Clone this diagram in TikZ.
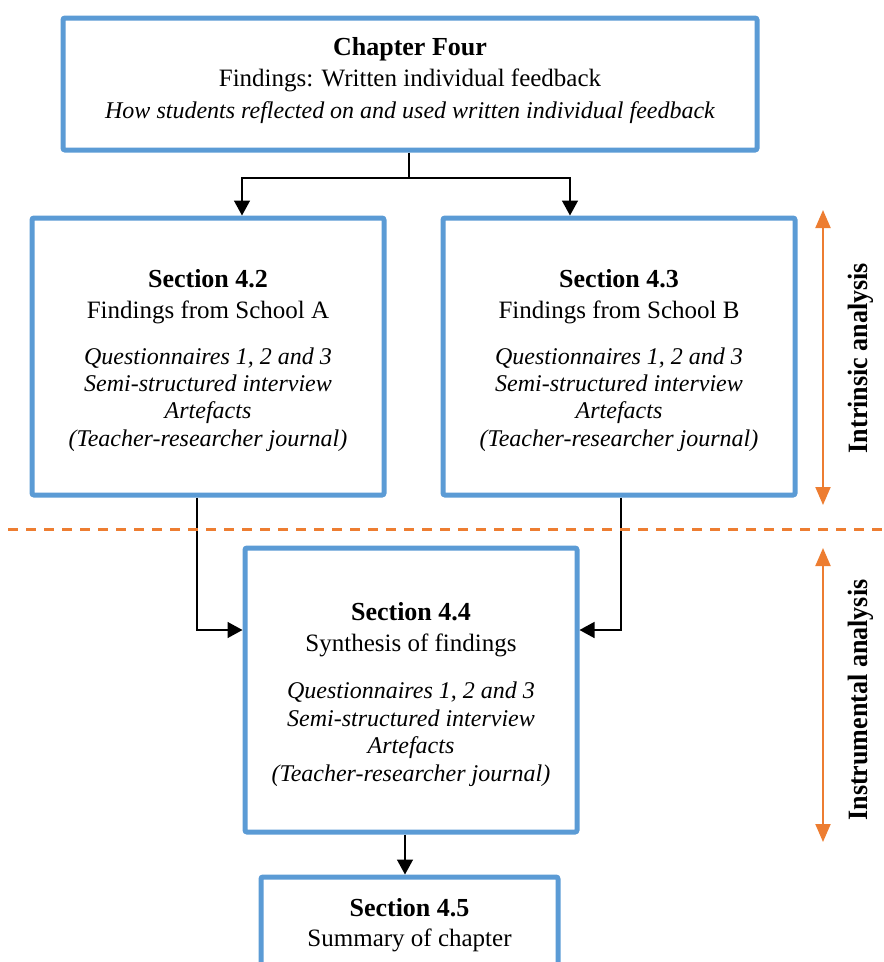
\documentclass[tikz,border=0pt]{standalone}
\usepackage{fontspec}
\setmainfont{Liberation Serif}
\usetikzlibrary{arrows.meta}
\definecolor{boxblue}{HTML}{5B9BD5}
\definecolor{dorange}{HTML}{ED7D31}
\begin{document}
\begin{tikzpicture}[x=1pt,y=-1pt,
  box/.style={draw=boxblue, line width=5pt, rounded corners=2pt, fill=white, inner sep=0pt},
  conn/.style={draw=black, line width=1.5pt, -{Triangle[length=15pt,width=16pt]}},
  hd/.style={anchor=base, font=\fontsize{26}{30}\selectfont\bfseries, inner sep=0pt},
  rg/.style={anchor=base, font=\fontsize{25}{30}\selectfont, inner sep=0pt},
  itl/.style={anchor=base, font=\fontsize{24}{28}\selectfont\itshape, inner sep=0pt},
  oarr/.style={draw=dorange, line width=2pt, {Triangle[length=18pt,width=15pt]}-{Triangle[length=18pt,width=15pt]}},
  sidelabel/.style={font=\fontsize{28}{32}\selectfont\bfseries, rotate=90, inner sep=0pt},
  dline/.style={draw=dorange, line width=3pt, dash pattern=on 10pt off 8pt}]
\useasboundingbox (0,0) rectangle (884,962);
\clip (0,0) rectangle (884,962);

% boxes
\node[box, minimum width=694pt, minimum height=132pt] (top) at (410,84) {};
\node[box, minimum width=352pt, minimum height=277pt] (s42) at (208,356.5) {};
\node[box, minimum width=352pt, minimum height=277pt] (s43) at (619,356.5) {};
\node[box, minimum width=332pt, minimum height=284pt] (s44) at (411,690) {};
\node[box, minimum width=297pt, minimum height=124pt] (s45) at (409.5,939) {};

% texts
\node[hd] (t1) at (410,55) {Chapter Four};
\node[rg] (t2) at (410,86) {Findings: Written individual feedback};
\node[itl] (t3) at (410,118) {How students reflected on and used written individual feedback};

\node[hd] (a1) at (208,287) {Section 4.2};
\node[rg] (a2) at (208,318) {Findings from School A};
\node[itl] (a3) at (208,364) {Questionnaires 1, 2 and 3};
\node[itl] (a4) at (208,391) {Semi-structured interview};
\node[itl] (a5) at (208,418) {Artefacts};
\node[itl] (a6) at (208,446) {(Teacher-researcher journal)};

\node[hd] (b1) at (619,287) {Section 4.3};
\node[rg] (b2) at (619,318) {Findings from School B};
\node[itl] (b3) at (619,364) {Questionnaires 1, 2 and 3};
\node[itl] (b4) at (619,391) {Semi-structured interview};
\node[itl] (b5) at (619,418) {Artefacts};
\node[itl] (b6) at (619,446) {(Teacher-researcher journal)};

\node[hd] (c1) at (411,620) {Section 4.4};
\node[rg] (c2) at (411,651) {Synthesis of findings};
\node[itl] (c3) at (411,698) {Questionnaires 1, 2 and 3};
\node[itl] (c4) at (411,726) {Semi-structured interview};
\node[itl] (c5) at (411,753) {Artefacts};
\node[itl] (c6) at (411,781) {(Teacher-researcher journal)};

\node[hd] (d1) at (409.5,916) {Section 4.5};
\node[rg] (d2) at (409.5,946) {Summary of chapter};

% connectors
\coordinate (j) at (409,178);
\draw[line width=1.5pt] (top.south -| j) -- (j);
\draw[conn] (j) -| ([xshift=34pt]s42.north);
\draw[conn] (j) -| ([xshift=-49pt]s43.north);
\draw[conn] ([xshift=-11pt]s42.south) |- ([yshift=60pt]s44.west);
\draw[conn] ([xshift=2pt]s43.south) |- ([yshift=60pt]s44.east);
\draw[conn] ([xshift=-6pt]s44.south) -- ([xshift=-6pt]s44.south |- s45.north);

% dashed divider
\coordinate (dl) at (8,529);
\coordinate (dr) at (884,529);
\draw[dline] (dl) -- (dr);

% orange range arrows
\coordinate (i1) at (823,210);
\coordinate (i2) at (823,505);
\coordinate (m1) at (823,548);
\coordinate (m2) at (823,842);
\draw[oarr] (i1) -- (i2);
\draw[oarr] (m1) -- (m2);
\node[sidelabel] (il) at (861,358) {\scalebox{0.93}[1]{Intrinsic analysis}};
\node[sidelabel] (ml) at (861,700) {\scalebox{0.93}[1]{Instrumental analysis}};
\end{tikzpicture}
\end{document}
